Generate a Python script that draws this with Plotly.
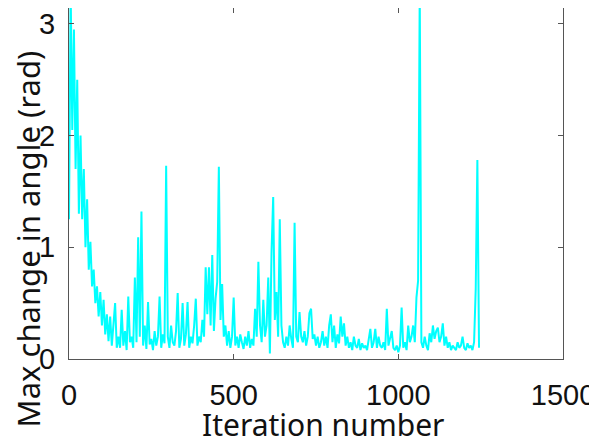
import plotly.graph_objects as go

early_phase = [
    1.25, 3.3, 2.05, 2.95, 1.7, 2.5, 1.3, 2.0, 1.25, 1.7,
    1.0, 1.43, 0.8, 1.05, 0.65, 0.8, 0.5, 0.65, 0.38, 0.6,
    0.3, 0.53, 0.22, 0.4, 0.16, 0.38, 0.12, 0.3, 0.5, 0.1,
    0.2, 0.1, 0.44, 0.12, 0.25, 0.08, 0.56, 0.15, 0.2, 0.1,
    0.73, 0.15, 1.09, 0.2, 1.32, 0.12, 0.3, 0.09, 0.51, 0.13,
]
middle_phase = [
    0.18, 0.08, 0.25, 0.12, 0.2, 0.56, 0.1, 0.22, 0.14, 1.73,
    0.2, 0.1, 0.3, 0.15, 0.12, 0.25, 0.59, 0.1, 0.18, 0.5,
    0.12, 0.22, 0.51, 0.1, 0.2, 0.14, 0.3, 0.54, 0.12, 0.2,
    0.15, 0.35, 0.2, 0.82, 0.4, 0.82, 0.3, 0.93, 0.25, 0.54,
    0.69, 1.72, 0.35, 0.67, 0.2, 0.3, 0.12, 0.25, 0.1, 0.2,
    0.55, 0.12, 0.2, 0.1, 0.22, 0.15, 0.09, 0.2, 0.12, 0.25,
    0.1, 0.18, 0.12, 0.45, 0.2, 0.87, 0.3, 0.15, 0.53, 0.2,
    0.3, 0.73, 0.05, 0.96, 1.45, 0.35, 0.6, 0.2, 1.25, 0.3,
    0.15, 0.1, 0.2, 0.12, 0.3, 0.18, 0.1, 1.22, 0.2, 0.15,
    0.42, 0.2, 0.15, 0.25, 0.12, 0.2, 0.41, 0.45, 0.18, 0.22,
]
late_phase = [
    0.12, 0.2, 0.1, 0.15, 0.25, 0.12, 0.2, 0.1, 0.3, 0.4,
    0.15, 0.3, 0.1, 0.22, 0.14, 0.38, 0.2, 0.32, 0.12, 0.2,
    0.1, 0.15, 0.08, 0.2, 0.12, 0.1, 0.18, 0.08, 0.14, 0.1,
    0.12, 0.08, 0.2, 0.27, 0.1, 0.15, 0.27, 0.1, 0.2, 0.12,
    0.1, 0.15, 0.08, 0.45, 0.12, 0.2, 0.25, 0.1, 0.08, 0.12,
    0.06, 0.12, 0.46, 0.1, 0.15, 0.08, 0.3, 0.15, 0.2, 0.3,
    0.15, 0.55, 0.7, 3.3, 0.15, 0.1, 0.2, 0.12, 0.08, 0.23,
    0.15, 0.3, 0.18, 0.25, 0.28, 0.15, 0.2, 0.32, 0.12, 0.2,
    0.1, 0.15, 0.08, 0.12, 0.1, 0.08, 0.15, 0.1, 0.12, 0.2,
    0.1, 0.08, 0.14, 0.1, 0.12, 0.08, 0.15, 0.63, 1.78, 0.1,
]
max_change = early_phase + middle_phase + late_phase
iterations = list(range(0, 5 * len(max_change), 5))

x_ticks = [0, 500, 1000, 1500]
y_ticks = [0, 1, 2, 3]
x_title = "Iteration number"
y_title = "Max change in angle (rad)"

fig = go.Figure()
fig.add_trace(go.Scatter(x=iterations, y=max_change, mode="lines",
                         line=dict(color="#00FFFF", width=2),
                         showlegend=False, hoverinfo="skip"))

axis_common = dict(showline=True, linecolor="#555555", linewidth=1,
                   mirror="ticks", ticks="inside", ticklen=5,
                   tickcolor="#555555", showgrid=False, zeroline=False,
                   ticklabeloverflow="allow",
                   tickfont=dict(family="Liberation Sans", size=29, color="#111111"))

fig.update_xaxes(range=[0, 1500], tickvals=x_ticks,
                 ticktext=[str(v) for v in x_ticks],
                 ticklabelstandoff=10, **axis_common)
fig.update_yaxes(range=[0, 3.14159], tickvals=y_ticks,
                 ticktext=[str(v) for v in y_ticks],
                 ticklabelstandoff=7, **axis_common)

fig.add_annotation(text=x_title, xref="paper", yref="paper",
                   x=0.515, y=-0.188, xanchor="center", yanchor="middle",
                   showarrow=False,
                   font=dict(family="Noto Sans", size=30, color="#111111"))
fig.add_annotation(text=y_title, xref="paper", yref="paper",
                   x=-0.084, y=0.342, xanchor="center", yanchor="middle",
                   textangle=-90, showarrow=False,
                   font=dict(family="Noto Sans", size=31, color="#111111"))

# the page body keeps its 8px margin, so the figure is sized to fit the window
fig.update_layout(width=589, height=431, autosize=False,
                  margin=dict(l=61, r=34, t=0, b=80),
                  paper_bgcolor="white", plot_bgcolor="white")

fig.write_html("out.html",
               config={"responsive": False, "displayModeBar": False,
                       "staticPlot": True},
               post_script="document.documentElement.style.overflow='hidden';")
